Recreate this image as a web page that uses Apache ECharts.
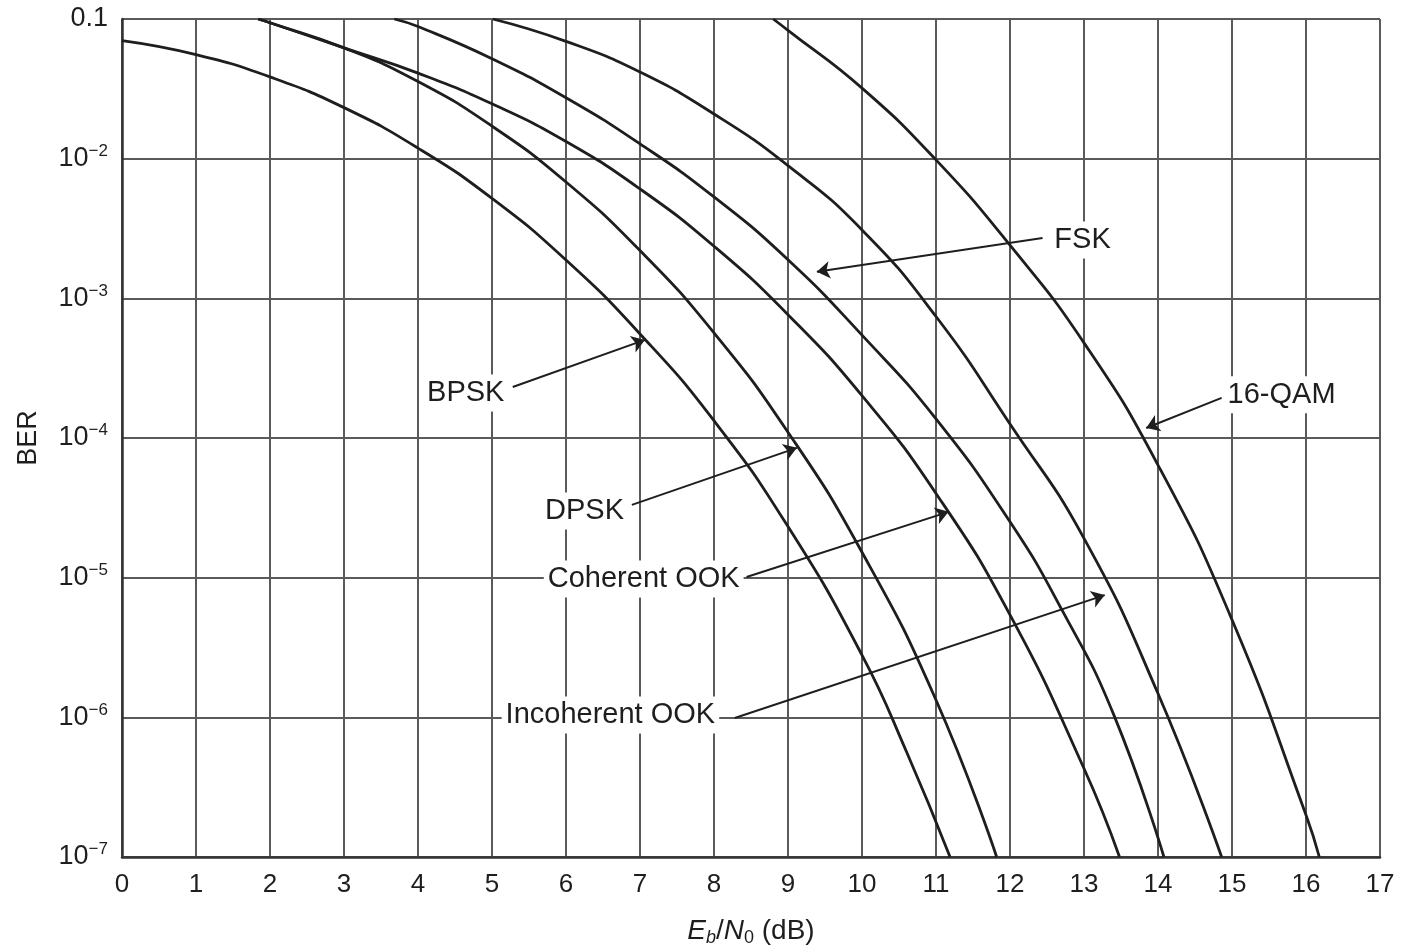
<!DOCTYPE html>
<html>
<head>
<meta charset="utf-8">
<title>BER vs Eb/N0</title>
<script src="https://cdn.jsdelivr.net/npm/echarts@6/dist/echarts.min.js"></script>
<style>
  html, body { margin: 0; padding: 0; background: #fff; }
  #chart { width: 1401px; height: 950px; }
</style>
</head>
<body>
<div id="chart"></div>
<script>
// Eb/N0 (dB) and BER
const bpskX = [0, 1, 2, 3, 4, 5, 6, 7, 8, 9, 10, 10.6, 11.19];
const bpskY = [0.0700, 0.0556, 0.0385, 0.0232, 0.0119, 5.19e-3, 1.88e-3, 5.56e-4, 1.33e-4, 2.32e-5, 2.79e-6, 5.69e-7, 1.0e-7];

const dpskX = [1.84, 2, 3, 4, 5, 6, 7, 8, 9, 10, 11, 11.82];
const dpskY = [0.1, 0.094, 0.0621, 0.0357, 0.0171, 6.81e-3, 2.20e-3, 5.66e-4, 1.10e-4, 1.52e-5, 1.33e-6, 1.0e-7];

const cookX = [1.84, 2, 3, 4, 5, 6, 7, 8, 9, 10, 11, 12, 13, 13.48];
const cookY = [0.1, 0.094, 0.0621, 0.0410, 0.0247, 0.01327, 6.07e-3, 2.36e-3, 7.64e-4, 2.01e-4, 4.01e-5, 5.41e-6, 4.30e-7, 1.0e-7];

const fskX = [3.68, 4, 5, 6, 7, 8, 9, 10, 11, 12, 12.7, 13.4, 14.08];
const fskY = [0.1, 0.0883, 0.0520, 0.0273, 0.01276, 5.32e-3, 1.89e-3, 5.45e-4, 1.37e-4, 2.51e-5, 5.9e-6, 1.05e-6, 1.0e-7];

const iookX = [5.01, 6, 7, 8, 9, 10, 11, 12, 13, 14, 14.86];
const iookY = [0.1, 0.0692, 0.0417, 0.0209, 8.91e-3, 3.09e-3, 7.41e-4, 1.26e-4, 1.91e-5, 1.48e-6, 1.0e-7];

const qamX = [8.8, 9, 10, 11, 12, 13, 14, 15, 16, 16.18];
const qamY = [0.1, 0.083, 0.032, 9.8e-3, 2.4e-3, 4.8e-4, 6.4e-5, 5.0e-6, 2.0e-7, 1.0e-7];

// callouts: where the text sits, where the arrow starts, where it points (data units)
const noteText = ['BPSK', 'DPSK', 'Coherent OOK', 'FSK', 'Incoherent OOK', '16-QAM'];
const noteAt   = [[4.645, 2.1e-4], [6.25, 3.0e-5], [7.05, 9.8e-6], [12.98, 2.62e-3], [6.60, 1.04e-6], [15.67, 2.04e-4]];
const arrowFrom = [[5.28, 2.32e-4], [6.89, 3.32e-5], [8.44, 1.01e-5], [12.44, 2.70e-3], [8.28, 9.9e-7], [14.86, 1.94e-4]];
const arrowTo   = [[7.066, 5.04e-4], [9.12, 8.5e-5], [11.17, 2.96e-5], [9.39, 1.55e-3], [13.28, 7.5e-6], [13.84, 1.18e-4]];

const xTicks = [0, 17, 1];          // min, max, step
const yTicks = [1e-7, 0.1];         // min, max (decades)

const FONT = '"Liberation Sans", Arial, Helvetica, sans-serif';
const INK = '#1e1e1e';
const GRID = '#5a5a5a';

// one curve with its callout
function curve(name, xs, ys, k) {
  return {
    name: name,
    type: 'line',
    data: xs.map((x, i) => [x, ys[i]]),
    showSymbol: false,
    symbol: 'none',
    smooth: 0.5,
    clip: true,
    lineStyle: { color: INK, width: 2.8 },
    markLine: {
      silent: true,
      symbol: ['none', 'arrow'],
      symbolSize: 13,
      lineStyle: { color: INK, width: 2, type: 'solid' },
      label: { show: false },
      data: [[{ coord: arrowFrom[k] }, { coord: arrowTo[k] }]]
    },
    markPoint: {
      silent: true,
      symbol: 'rect',
      symbolSize: 1,
      itemStyle: { color: 'rgba(0,0,0,0)' },
      label: {
        show: true,
        position: 'inside',
        formatter: noteText[k],
        color: INK,
        fontSize: 29,
        fontFamily: FONT,
        backgroundColor: '#fff',
        padding: [4, 4]
      },
      data: [{ coord: noteAt[k] }]
    }
  };
}

function yLabel(v) {
  if (v > 0.05) return '{b|0.1}';
  const e = Math.round(-Math.log10(v));
  return '{b|10}{s|\u2212' + e + '}';
}

let myChart = echarts.init(document.getElementById('chart'));

let option = {
  animation: false,
  backgroundColor: '#fff',
  grid: { left: 122, right: 21, top: 19, bottom: 93, outerBoundsMode: 'none', containLabel: false },
  xAxis: {
    type: 'value',
    min: xTicks[0],
    max: xTicks[1],
    interval: xTicks[2],
    name: '{i|E}{is|b}{n|/}{i|N}{s|0}{n| (dB)}',
    nameLocation: 'middle',
    nameGap: 58,
    nameTextStyle: {
      rich: {
        i: { fontSize: 28, fontStyle: 'italic', fontFamily: FONT, color: INK, lineHeight: 32 },
        is: { fontSize: 18, fontStyle: 'italic', fontFamily: FONT, color: INK, lineHeight: 12, verticalAlign: 'bottom' },
        s: { fontSize: 18, fontFamily: FONT, color: INK, lineHeight: 12, verticalAlign: 'bottom' },
        n: { fontSize: 28, fontFamily: FONT, color: INK, lineHeight: 32 }
      }
    },
    axisLine: { show: true, lineStyle: { color: '#333', width: 2.5 } },
    axisTick: { show: false },
    axisLabel: { color: INK, fontSize: 26, fontFamily: FONT, margin: 15, showMinLabel: true, showMaxLabel: true },
    splitLine: { show: true, lineStyle: { color: GRID, width: 2 } }
  },
  yAxis: {
    type: 'log',
    logBase: 10,
    min: yTicks[0],
    max: yTicks[1],
    name: 'BER',
    nameLocation: 'middle',
    nameGap: 80,
    nameTextStyle: { fontSize: 27, fontFamily: FONT, color: INK },
    axisLine: { show: true, lineStyle: { color: '#333', width: 2.5 } },
    axisTick: { show: false },
    axisLabel: {
      formatter: yLabel,
      margin: 14,
      rich: {
        b: { fontSize: 27, fontFamily: FONT, color: INK, lineHeight: 32 },
        s: { fontSize: 17, fontFamily: FONT, color: INK, lineHeight: 14, verticalAlign: 'top' }
      }
    },
    splitLine: { show: true, lineStyle: { color: GRID, width: 2 } }
  },
  series: [
    curve('BPSK', bpskX, bpskY, 0),
    curve('DPSK', dpskX, dpskY, 1),
    curve('Coherent OOK', cookX, cookY, 2),
    curve('FSK', fskX, fskY, 3),
    curve('Incoherent OOK', iookX, iookY, 4),
    curve('16-QAM', qamX, qamY, 5)
  ]
};

myChart.setOption(option);
</script>
</body>
</html>
